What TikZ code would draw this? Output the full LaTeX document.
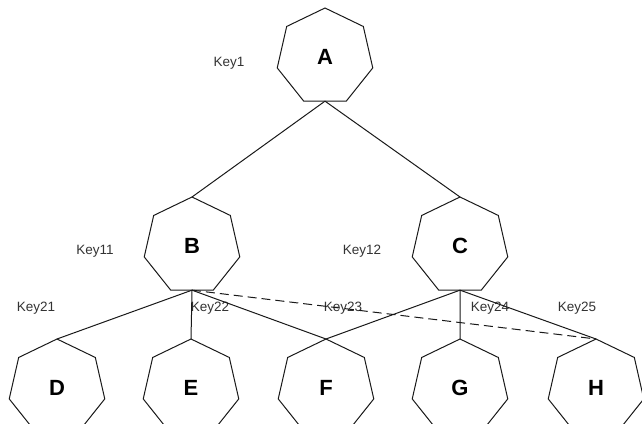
\documentclass[tikz,border=0pt]{standalone}
\usepackage{fontspec}
\setmainfont{Liberation Sans}
\usetikzlibrary{shapes.geometric}
\begin{document}
\begin{tikzpicture}[x=1pt,y=-1pt,
  hept/.style={regular polygon, regular polygon sides=7, draw=black!90,
    line width=1pt, minimum size=98pt, inner sep=0pt, outer sep=0pt,
    font=\fontsize{22}{24}\selectfont\bfseries},
  keylbl/.style={font=\fontsize{13.5}{15}\selectfont, text=black!80, inner sep=1pt},
  link/.style={draw=black!90, line width=1pt},
  dlink/.style={link, dash pattern=on 9pt off 5pt}]
\useasboundingbox (0,0) rectangle (642,423);
\clip (0,0) rectangle (642,423);
% tree nodes
\node[hept] (A) at (325,57) {A};
\node[hept] (B) at (192,246) {B};
\node[hept] (C) at (460,246) {C};
\node[hept] (D) at (57,388) {D};
\node[hept] (E) at (191,388) {E};
\node[hept] (F) at (326,388) {F};
\node[hept] (G) at (460,388) {G};
\node[hept] (H) at (596,388) {H};
% key labels
\node[keylbl] (k1) at (229,63) {Key1};
\node[keylbl] (k11) at (95,251) {Key11};
\node[keylbl] (k12) at (362,251) {Key12};
\node[keylbl] (k21) at (36,308) {Key21};
\node[keylbl] (k22) at (210,308) {Key22};
\node[keylbl] (k23) at (343,308) {Key23};
\node[keylbl] (k24) at (490,308) {Key24};
\node[keylbl] (k25) at (577,308) {Key25};
% connectors
\draw[link] (A.south) -- (B.north);
\draw[link] (A.south) -- (C.north);
\draw[link] (B.south) -- (D.north);
\draw[link] (B.south) -- (E.north);
\draw[link] (B.south) -- (F.north);
\draw[link] (C.south) -- (F.north);
\draw[link] (C.south) -- (G.north);
\draw[link] (C.south) -- (H.north);
\draw[dlink] (B.south) -- (H.north);
\end{tikzpicture}
\end{document}
